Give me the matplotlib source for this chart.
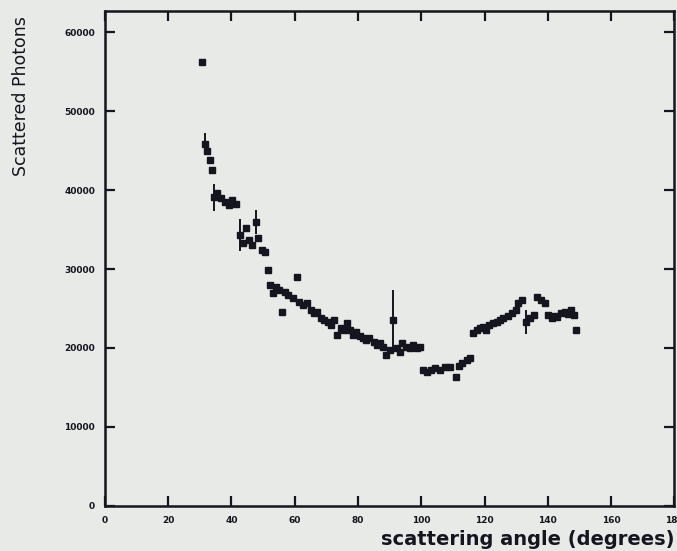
import matplotlib
matplotlib.use("Agg")
import matplotlib.pyplot as plt
import numpy as np

# scattering angle (degrees) and scattered photon counts
angle_deg = [
    30.7, 31.6, 32.3, 33.2, 34.0, 34.5, 35.5, 36.8, 38.0, 39.2, 40.3, 41.5,
    42.7, 43.6, 44.5, 45.5, 46.5, 47.8, 48.5, 49.5, 50.5, 51.5, 52.3, 53.0,
    54.0, 55.0, 56.0, 57.0, 58.0, 59.5, 60.8, 61.5, 62.6, 63.8, 65.0, 66.0,
    67.2, 68.3, 69.3, 70.5, 71.5, 72.5, 73.3, 74.5, 75.5, 76.5, 77.5, 78.5,
    79.5, 80.5, 81.6, 82.6, 83.6, 85.0, 86.0, 87.0, 88.0, 89.0, 90.0, 91.0,
    92.4, 93.3, 94.0, 95.3, 96.5, 97.5, 98.7, 99.5, 100.6, 101.8, 103.0, 104.5,
    106.0, 107.5, 109.0, 111.0, 112.0, 113.0, 114.5, 115.5, 116.5, 117.7, 118.7, 119.6,
    120.5, 121.5, 122.8, 124.0, 125.0, 126.0, 127.3, 128.8, 130.0, 130.7, 131.8, 133.0,
    134.5, 135.5, 136.7, 137.8, 139.0, 140.0, 141.2, 142.3, 143.0, 144.3, 145.5, 146.5,
    147.5, 148.3, 149.0,
]
photons = [
    56200, 45900, 45000, 43800, 42500, 39100, 39700, 39000, 38500, 38100, 38700, 38200,
    34300, 33300, 35200, 33700, 33000, 36000, 33900, 32400, 32200, 29900, 28000, 27000,
    27700, 27300, 24600, 27100, 26700, 26300, 29000, 25800, 25400, 25700, 24800, 24400,
    24600, 23800, 23500, 23300, 22900, 23500, 21600, 22500, 22300, 23200, 22300, 21600,
    22000, 21500, 21300, 21000, 21300, 20800, 20400, 20600, 20100, 19100, 19700, 23500,
    20000, 19500, 20600, 20100, 20000, 20400, 20000, 20100, 17200, 17000, 17200, 17500,
    17200, 17600, 17600, 16300, 17700, 18100, 18500, 18700, 21900, 22300, 22500, 22700,
    22300, 22900, 23200, 23300, 23500, 23800, 24100, 24400, 24800, 25700, 26100, 23300,
    23800, 24200, 26500, 26100, 25700, 24200, 23800, 24100, 23900, 24400, 24600, 24300,
    24800, 24200, 22300,
]
# error bars on a handful of points
photon_err = {
    31.6: 1300, 34.5: 1700, 42.7: 2000, 47.8: 1500, 91.0: 3800, 133.0: 1500,
}

x_ticks = [0, 20, 40, 60, 80, 100, 120, 140, 160, 180]
y_ticks = [0, 10000, 20000, 30000, 40000, 50000, 60000]

bg = "#e7eae7"
ink = "#15151f"

fig = plt.figure(figsize=(6.77, 5.51), dpi=100, facecolor=bg)
ax = fig.add_axes([0.155, 0.082, 0.841, 0.898], facecolor=bg)

ax.plot(angle_deg, photons, ls="none", marker="s", ms=3.7, color=ink, mec=ink)
err_x = list(photon_err.keys())
err_y = [photons[angle_deg.index(a)] for a in err_x]
ax.errorbar(err_x, err_y, yerr=list(photon_err.values()), fmt="none",
            ecolor=ink, elinewidth=1.4, capsize=0)

ax.set_xlim(0, 180)
ax.set_ylim(0, 62700)
ax.set_xticks(x_ticks)
ax.set_yticks(y_ticks)
ax.tick_params(direction="in", length=7, width=1.6, top=True, right=True,
               colors=ink, labelsize=6.5, pad=7)
for lab in ax.get_xticklabels() + ax.get_yticklabels():
    lab.set_fontweight("bold")
for sp in ax.spines.values():
    sp.set_linewidth(1.8)
    sp.set_color(ink)

ax.set_xlabel("scattering angle (degrees)", loc="right", fontsize=14,
              fontweight="bold", color=ink, labelpad=4)
ax.set_ylabel("Scattered Photons", loc="top", fontsize=12.5, color=ink)
ax.yaxis.set_label_coords(-0.132, 0.99)

fig.savefig("out.png", dpi=100, facecolor=bg)
